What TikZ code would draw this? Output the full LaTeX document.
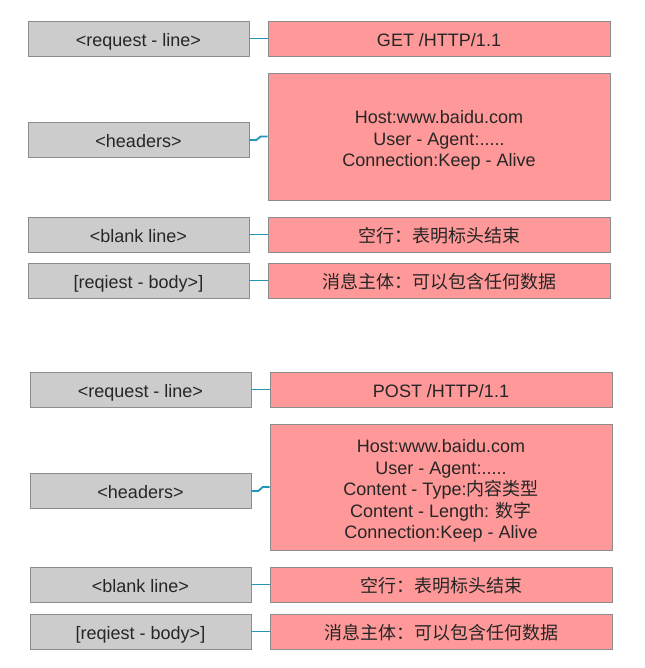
\documentclass[tikz,border=0pt]{standalone}
\usepackage{fontspec}
\setmainfont{Liberation Sans}
\newfontfamily\cjk{Noto Sans CJK SC}
\definecolor{boxgray}{HTML}{CCCCCC}
\definecolor{boxpink}{HTML}{FF9898}
\definecolor{linkteal}{HTML}{2396B9}

\tikzset{
  box/.style={draw=black!45, line width=0.8pt, minimum height=35pt, inner sep=0pt, font=\fontsize{18}{21.5}\selectfont, text=black!85},
  key/.style={box, fill=boxgray, minimum width=221pt, text height=15.5pt, text depth=0pt},
  val/.style={box, fill=boxpink, minimum width=342pt, text height=15.5pt, text depth=0pt},
  valblock/.style={box, fill=boxpink, minimum width=342pt, align=center},
  link/.style={draw=linkteal, line width=1.8pt}
}

\begin{document}
\begin{tikzpicture}[x=1pt, y=-1pt]
            \useasboundingbox (0, 0) rectangle (644, 668);

            % GET request
            \node[key] (reqline1) at (138.5, 38.5) {<request - line>};
            \node[key] (hdr1) at (138.5, 140) {<headers>};
            \node[key] (blank1) at (138.5, 234.5) {<blank line>};
            \node[key] (body1) at (138.5, 280.5) {[reqiest - body>]};

            \node[val] (reqlineval1) at (439, 38.5) {GET /HTTP/1.1};
            \node[valblock, minimum height=127pt] (hdrval1) at (439, 136.5) {\rule{0pt}{21pt}Host:www.baidu.com\\User - Agent:.....\\Connection:Keep - Alive};
            \node[val] (blankval1) at (439, 234.5) {{\cjk 空行：表明标头结束}};
            \node[val] (bodyval1) at (439, 280.5) {{\cjk 消息主体：可以包含任何数据}};

            \draw[link] (reqline1) to (reqlineval1);
            \draw[link] (hdr1.east) -- ++(7, 0) -- ([xshift=-7pt]hdrval1.west) -- (hdrval1.west);
            \draw[link] (blank1) to (blankval1);
            \draw[link] (body1) to (bodyval1);

            % POST request
            \node[key] (reqline2) at (140.5, 389.5) {<request - line>};
            \node[key] (hdr2) at (140.5, 491) {<headers>};
            \node[key] (blank2) at (140.5, 584.5) {<blank line>};
            \node[key] (body2) at (140.5, 631.5) {[reqiest - body>]};

            \node[val] (reqlineval2) at (441, 389.5) {POST /HTTP/1.1};
            \node[valblock, minimum height=126pt] (hdrval2) at (441, 487) {\rule{0pt}{21pt}Host:www.baidu.com\\User - Agent:.....\\Content - Type:{\cjk 内容类型}\\Content - Length: {\cjk 数字}\\Connection:Keep - Alive};
            \node[val] (blankval2) at (441, 584.5) {{\cjk 空行：表明标头结束}};
            \node[val] (bodyval2) at (441, 631.5) {{\cjk 消息主体：可以包含任何数据}};

            \draw[link] (reqline2) to (reqlineval2);
            \draw[link] (hdr2.east) -- ++(7, 0) -- ([xshift=-7pt]hdrval2.west) -- (hdrval2.west);
            \draw[link] (blank2) to (blankval2);
            \draw[link] (body2) to (bodyval2);
          \end{tikzpicture}
\end{document}
